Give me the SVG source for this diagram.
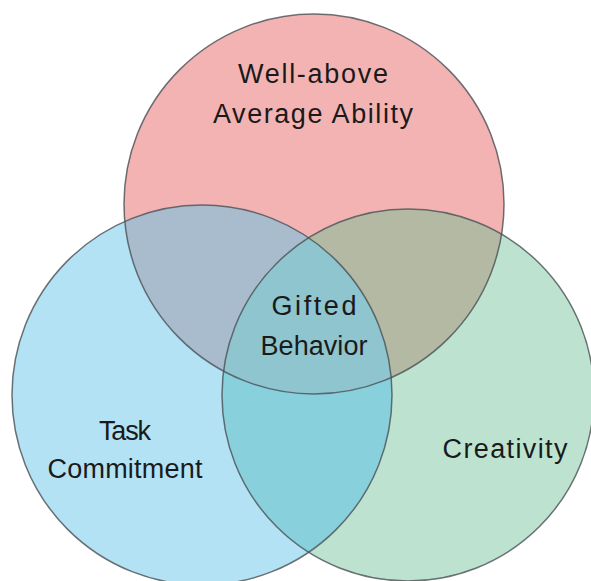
<svg xmlns="http://www.w3.org/2000/svg" width="591" height="581" viewBox="0 0 591 581">
<style>
.lbl{font-family:"Liberation Sans","DejaVu Sans",sans-serif;font-size:27px;fill:#1a1a1a;text-anchor:middle}
.ring{fill:none;stroke:#4a5055;stroke-width:1.5;stroke-opacity:0.8}
</style>
<defs>
<clipPath id="cR"><circle cx="314" cy="204" r="190"/></clipPath>
<clipPath id="cB"><circle cx="202" cy="395" r="190"/></clipPath>
<clipPath id="cG"><circle cx="408" cy="395" r="186"/></clipPath>
</defs>
<rect width="591" height="581" fill="#ffffff"/>
<g id="regions">
<circle cx="314" cy="204" r="190" fill="#f4b3b3"/>
<circle cx="202" cy="395" r="190" fill="#b3e2f5"/>
<circle cx="408" cy="395" r="186" fill="#bde3d0"/>
<circle cx="202" cy="395" r="190" fill="#a8bccd" clip-path="url(#cR)"/>
<circle cx="408" cy="395" r="186" fill="#b3b9a3" clip-path="url(#cR)"/>
<circle cx="408" cy="395" r="186" fill="#88d0dc" clip-path="url(#cB)"/>
<g clip-path="url(#cR)"><circle cx="408" cy="395" r="186" fill="#8ec5ce" clip-path="url(#cB)"/></g>
</g>
<g id="ability">
<circle class="ring" cx="314" cy="204" r="190"/>
<text class="lbl" x="313" y="83" textLength="150" lengthAdjust="spacing">Well-above</text>
<text class="lbl" x="313" y="123" textLength="200" lengthAdjust="spacing">Average Ability</text>
</g>
<g id="task">
<circle class="ring" cx="202" cy="395" r="190"/>
<text class="lbl" x="125" y="440" textLength="52" lengthAdjust="spacing">Task</text>
<text class="lbl" x="125" y="478" textLength="155" lengthAdjust="spacing">Commitment</text>
</g>
<g id="creativity">
<circle class="ring" cx="408" cy="395" r="186"/>
<text class="lbl" x="505" y="458" textLength="125" lengthAdjust="spacing">Creativity</text>
</g>
<g id="gifted">
<text class="lbl" x="314" y="315" textLength="85" lengthAdjust="spacing">Gifted</text>
<text class="lbl" x="314" y="355" textLength="107" lengthAdjust="spacing">Behavior</text>
</g>
</svg>
